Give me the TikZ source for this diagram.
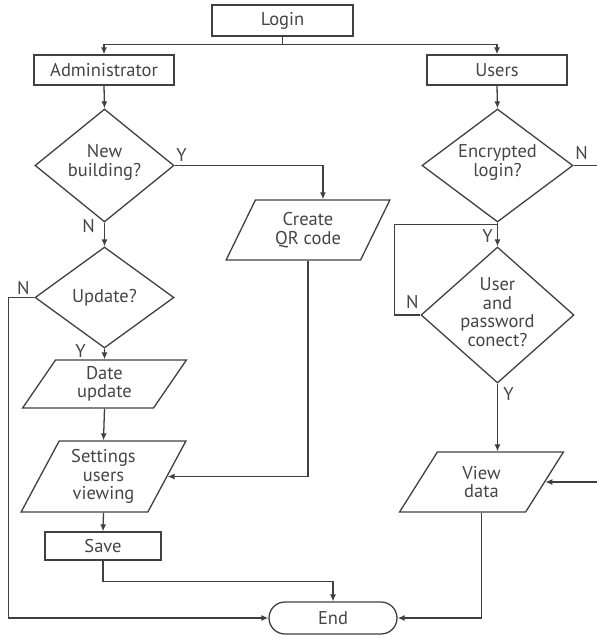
\documentclass[tikz,border=0pt]{standalone}
\usepackage{fontspec}
\setmainfont{PT Sans}
\usetikzlibrary{shapes.geometric}
\usetikzlibrary{shapes.misc}
\usetikzlibrary{arrows.meta}
\usetikzlibrary{calc}

\definecolor{linegray}{HTML}{404040}
\definecolor{textgray}{HTML}{454545}

\tikzset{
    box/.style={draw=linegray, line width=1.3pt, inner sep=0pt, align=center},
    dia/.style={draw=linegray, line width=1.3pt, diamond, inner sep=0pt},
    para/.style={draw=linegray, line width=1.3pt, trapezium, trapezium left angle=63,
        trapezium right angle=117, trapezium stretches=true, inner sep=1pt, align=center},
    term/.style={draw=linegray, line width=1.3pt, rounded rectangle, inner sep=0pt},
    txt/.style={align=center, inner sep=0pt},
    lbl/.style={inner sep=0pt},
    line/.style={draw=linegray, line width=1.3pt},
    arr/.style={line, -{Latex[length=7pt,width=6pt]}}
}

\begin{document}
\begin{tikzpicture}[x=1pt, y=-1pt, font=\fontsize{18.5}{18.5}\selectfont, text=textgray]
                \clip (0,0) rectangle (597,635);

                % start
                \node[box, minimum width=141pt, minimum height=31pt] (login) at (282.5,20.5) {Login};
                \node[box, minimum width=140pt, minimum height=30pt] (admin) at (104,70) {Administrator};
                \node[box, minimum width=140pt, minimum height=30pt] (users) at (497,70) {Users};

                % administrator branch
                \node[dia, minimum width=139pt, minimum height=113pt] (nb) at (104.5,165.5) {};
                \node[txt] at ($(nb)+(0,-3)$) {New\\building?};
                \node[dia, minimum width=139pt, minimum height=101pt] (upd) at (104.5,297.5) {};
                \node[txt] at (upd) {Update?};
                \node[para, minimum width=164pt, minimum height=60pt] (qr) at (308,230) {Create\\QR code};
                \node[para, minimum width=165pt, minimum height=48pt] (date) at (104.5,384) {Date\\update};
                \node[para, minimum width=165pt, minimum height=71pt] (set) at (103.5,476.5) {Settings\\users\\viewing};
                \node[box, minimum width=116pt, minimum height=28pt] (save) at (103,546) {Save};

                % users branch
                \node[dia, minimum width=151pt, minimum height=113pt] (enc) at (497.5,165.5) {};
                \node[txt] at ($(enc)+(0,-3)$) {Encrypted\\login?};
                \node[dia, minimum width=153pt, minimum height=136pt] (usr) at (497.5,315) {};
                \node[txt] at ($(usr)+(0,-3)$) {User\\and\\password\\conect?};
                \node[para, minimum width=165pt, minimum height=60pt] (view) at (481.5,482) {View\\data};

                % end
                \node[term, minimum width=128pt, minimum height=32pt] (end) at (333,618) {End};

                % connectors
                \draw[line] (login.south) -- ++(0,8) coordinate (split);
                \draw[arr] (split) -| (admin.north);
                \draw[arr] (split) -| (users.north);

                \draw[arr] (admin.south) -- (nb.north);
                \draw[arr] (nb.south) -- (upd.north);
                \draw[arr] (nb.east) -| (qr.top side);
                \draw[arr] (upd.south) -- (date.north);
                \draw[arr] (date.south) -- (set.north);
                \draw[arr] (set.south) -- (save.north);
                \draw[arr] (qr.south) |- (set.east);
                \draw[arr] (save.south) -- ++(0,21) -| (end.north);
                \draw[arr] (upd.west) -- ++(-26,0) |- (end.west);

                \coordinate (ju) at ($(enc.south)+(0,2)$);
                \draw[arr] (users.south) -- (enc.north);
                \draw[arr] (enc.south) -- (usr.north);
                \draw[line] (usr.west) -- ++(-26,0) |- (ju);
                \draw[arr] (enc.east) -- ++(40,0) |- (view.east);
                \draw[arr] (usr.south) -- (usr.south |- view.north);
                \draw[arr] (view.south) |- (end.east);

                % branch labels
                \node[lbl] at ($(nb.east)+(7,-10)$) {Y};
                \node[lbl] at ($(nb.south)+(-16,3)$) {N};
                \node[lbl] at ($(upd.west)+(-11,-9)$) {N};
                \node[lbl] at ($(upd.south)+(-24,2)$) {Y};
                \node[lbl] at ($(enc.east)+(8,-12)$) {N};
                \node[lbl] at ($(enc.south)+(-10,13)$) {Y};
                \node[lbl] at ($(usr.west)+(-8,-13)$) {N};
                \node[lbl] at ($(usr.south)+(11,10)$) {Y};
            \end{tikzpicture}
\end{document}
